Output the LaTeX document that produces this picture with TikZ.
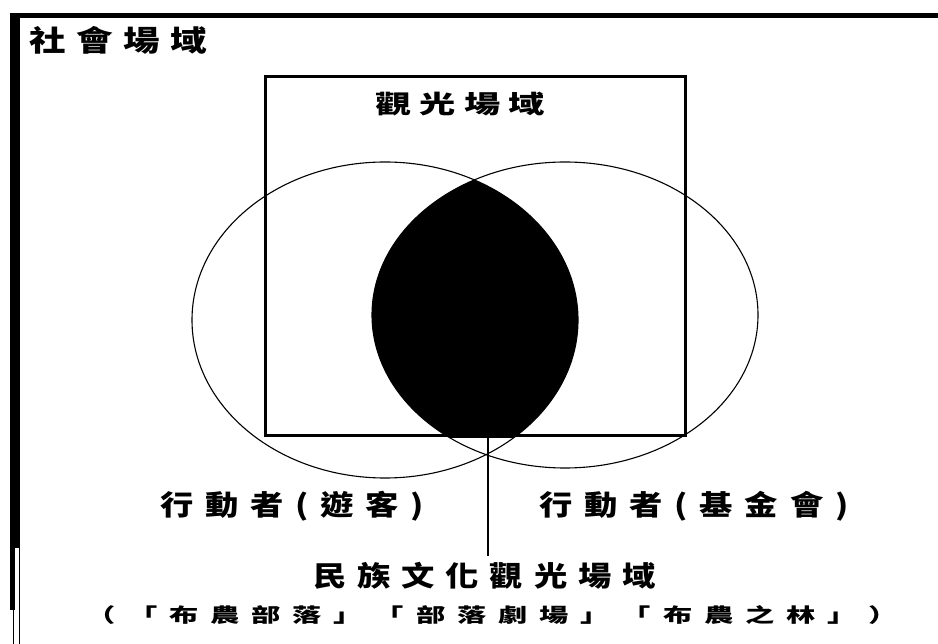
\documentclass[tikz,border=0pt]{standalone}
\usepackage{fontspec}
\newfontfamily\cjkfont{Noto Sans CJK TC}
\newcommand{\cjkset}[3]{\cjkfont\bfseries\fontsize{#1}{#1}\selectfont\addfontfeature{FakeStretch=#2,LetterSpace=#3}}
\tikzset{
  field/.style    = {draw, line width=1.1pt},
  tbox/.style     = {draw, line width=3pt, inner sep=0pt, minimum width=420pt, minimum height=359pt},
  titlelbl/.style = {inner sep=0pt, font=\cjkset{29}{1.26}{36}},
  boxlbl/.style   = {inner sep=0pt, font=\cjkset{25}{1.45}{33}},
  actor/.style    = {inner sep=0pt, font=\cjkset{28}{1.19}{42}},
  ethnolbl/.style = {inner sep=0pt, font=\cjkset{28}{1.19}{39}},
  sitelbl/.style  = {inner sep=0pt, font=\cjkset{19.5}{1.5}{61}},
  link/.style     = {line width=1.5pt},
}
\begin{document}
\begin{tikzpicture}[x=1pt,y=-1pt]
  \useasboundingbox (0,0) rectangle (938,644);
  % social field frame (top and left edge only)
  \draw[line width=5.5pt] (10,15.5) -- (938,15.5);
  \fill (10,13) rectangle (20,548);
  \fill (10,548) rectangle (14.5,610);
  \draw[line width=1.3pt] (13.8,548) -- (13.8,644);
  \draw[line width=1.3pt] (19.3,548) -- (19.3,644);
  \node[titlelbl, anchor=west] (social) at (29,40) {社會場域};

  % tourism field
  \node[tbox] (tourbox) at (475,256.5) {};
  \node[boxlbl] (tourism) at (460,104) {觀光場域};

  % overlap of the two actors, inside the tourism field
  \begin{scope}
    \clip (tourbox.south west) rectangle (tourbox.north east);
    \clip (385,320) ellipse (193 and 158);
    \fill (565,315) ellipse (193 and 153);
  \end{scope}
  \draw[field] (385,320) ellipse (193 and 158);
  \draw[field] (565,315) ellipse (193 and 153);

  \node[actor] (visitor) at (292,506) {行動者(遊客)};
  \node[actor] (foundation) at (694,506) {行動者(基金會)};
  \node[ethnolbl] (ethno) at (484.5,576) {民族文化觀光場域};
  \node[sitelbl] (sites) at (492.5,615) {（「布農部落」「部落劇場」「布農之林」）};

  \coordinate (lensbot) at (488,436);
  \draw[link, shorten >=6pt] (lensbot) -- (lensbot |- ethno.north);
\end{tikzpicture}
\end{document}
